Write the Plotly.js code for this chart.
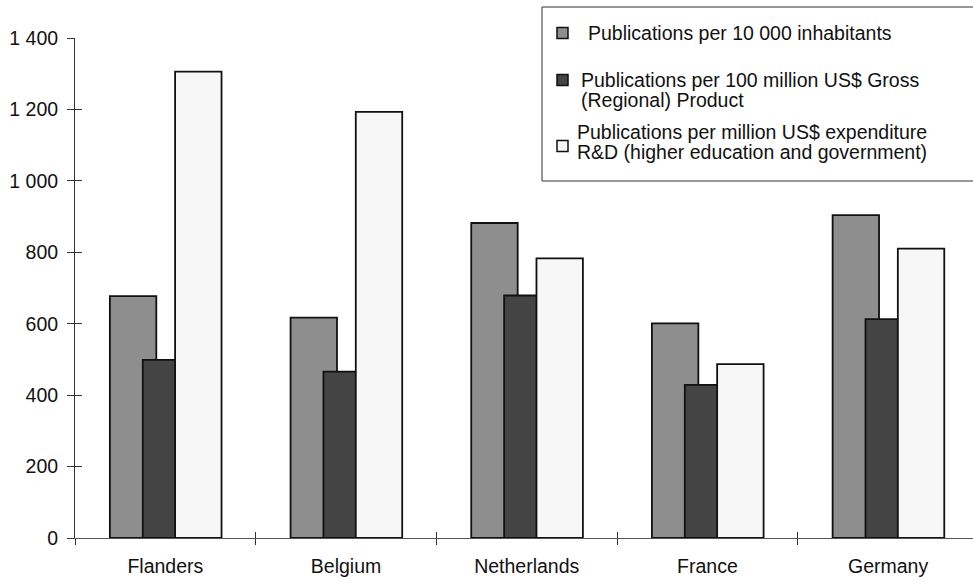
<!DOCTYPE html>
<html>
<head>
<meta charset="utf-8">
<script src="https://cdn.plot.ly/plotly-3.0.1.min.js"></script>
<style>
  html, body { margin: 0; padding: 0; background: #ffffff; }
  #chart { width: 973px; height: 583px; }
</style>
</head>
<body>
<div id="chart"></div>
<script>
// Regions compared
const regions = ['Flanders', 'Belgium', 'Netherlands', 'France', 'Germany'];

// Series names, one entry per legend line
const seriesNames = [
  ['Publications per 10 000 inhabitants'],
  ['Publications per 100 million US$ Gross', '(Regional) Product'],
  ['Publications per million US$ expenditure', 'R&amp;D (higher education and government)']
];

// Publication counts per indicator
const perInhabitants = [677, 617, 882, 601, 904];
const perGrossProduct = [499, 466, 679, 429, 613];
const perRDExpenditure = [1306, 1193, 783, 487, 810];

// Y axis tick values
const yTicks = [0, 200, 400, 600, 800, 1000, 1200, 1400];

const fillColors = ['#8e8e8e', '#444444', '#f7f7f7'];
const seriesValues = [perInhabitants, perGrossProduct, perRDExpenditure];
// bars overlap inside each group: each shifted by a fixed step
const barWidth = 0.257;
const barOffsets = [-0.307, -0.125, 0.054];

const W = 973, H = 583;
const M = { l: 75, r: 0, t: 38, b: 45 };
const font = { family: 'Liberation Sans, Arial, sans-serif', size: 19.5, color: '#111111' };

// pixel position -> paper coordinates (for the legend block)
const px = x => (x - M.l) / (W - M.l - M.r);
const py = y => (H - M.b - y) / (H - M.t - M.b);

const traces = seriesValues.map((vals, i) => ({
  type: 'bar',
  name: seriesNames[i].join(' '),
  x: regions,
  y: vals,
  width: barWidth,
  offset: barOffsets[i],
  marker: { color: fillColors[i], line: { color: '#111111', width: 1.8 } },
  hoverinfo: 'x+y'
}));

// helper trace carrying the inner halves of the crossing ticks
traces.push({
  type: 'scatter', x: [], y: [], xaxis: 'x2', yaxis: 'y2',
  showlegend: false, hoverinfo: 'skip'
});

const boundaries = regions.map((_, i) => i - 0.5);

// legend block: framed box, swatches and text lines
const legendBox = { x0: 542, x1: 985, y0: 7, y1: 181 };
const legendItems = [
  { swatchY: 33, textX: 587, lineY: [32.5] },
  { swatchY: 80, textX: 580, lineY: [80.5, 100] },
  { swatchY: 146, textX: 576, lineY: [132, 151.5] }
];

const shapes = [{
  type: 'rect', xref: 'paper', yref: 'paper',
  x0: px(legendBox.x0), x1: px(legendBox.x1), y0: py(legendBox.y0), y1: py(legendBox.y1),
  line: { color: '#333333', width: 1 }, fillcolor: '#ffffff', layer: 'above'
}];
const annotations = [];
legendItems.forEach((item, i) => {
  shapes.push({
    type: 'rect', xref: 'paper', yref: 'paper',
    x0: px(557), x1: px(568), y0: py(item.swatchY - 5.5), y1: py(item.swatchY + 5.5),
    line: { color: '#111111', width: 1.5 }, fillcolor: fillColors[i], layer: 'above'
  });
  seriesNames[i].forEach((line, j) => {
    annotations.push({
      xref: 'paper', yref: 'paper',
      x: px(item.textX), y: py(item.lineY[j]),
      xanchor: 'left', yanchor: 'middle',
      text: line, showarrow: false, font: font, borderpad: 0
    });
  });
});

const layout = {
  width: W,
  height: H,
  margin: { l: M.l, r: M.r, t: M.t, b: M.b, pad: 0 },
  paper_bgcolor: '#ffffff',
  plot_bgcolor: '#ffffff',
  font: font,
  separators: '. ',
  barmode: 'overlay',
  showlegend: false,
  shapes: shapes,
  annotations: annotations,
  xaxis: {
    type: 'category',
    range: [-0.5, 4.47],
    tickson: 'boundaries',
    ticks: 'outside',
    ticklen: 6,
    tickwidth: 1,
    tickcolor: '#333333',
    ticklabelstandoff: 11,
    showline: true,
    linecolor: '#555555',
    linewidth: 1,
    showgrid: false,
    zeroline: false,
    tickfont: font,
    fixedrange: true
  },
  yaxis: {
    range: [0, 1400],
    tickvals: yTicks,
    tickformat: ',d',
    ticks: 'outside',
    ticklen: 7,
    tickwidth: 1,
    tickcolor: '#333333',
    ticklabelstandoff: 5,
    showline: true,
    linecolor: '#333333',
    linewidth: 1,
    showgrid: false,
    zeroline: false,
    tickfont: font,
    fixedrange: true
  },
  xaxis2: {
    overlaying: 'x',
    anchor: 'y',
    range: [-0.5, 4.47],
    tickmode: 'array',
    tickvals: boundaries,
    ticks: 'inside',
    ticklen: 6,
    tickwidth: 1,
    tickcolor: '#333333',
    showticklabels: false,
    showline: false,
    showgrid: false,
    zeroline: false,
    fixedrange: true
  },
  yaxis2: {
    overlaying: 'y',
    anchor: 'x',
    side: 'left',
    range: [0, 1400],
    tickmode: 'array',
    tickvals: yTicks,
    ticks: 'inside',
    ticklen: 7,
    tickwidth: 1,
    tickcolor: '#333333',
    showticklabels: false,
    showline: false,
    showgrid: false,
    zeroline: false,
    fixedrange: true
  }
};

Plotly.newPlot('chart', traces, layout, { displayModeBar: false, staticPlot: true });
</script>
</body>
</html>
